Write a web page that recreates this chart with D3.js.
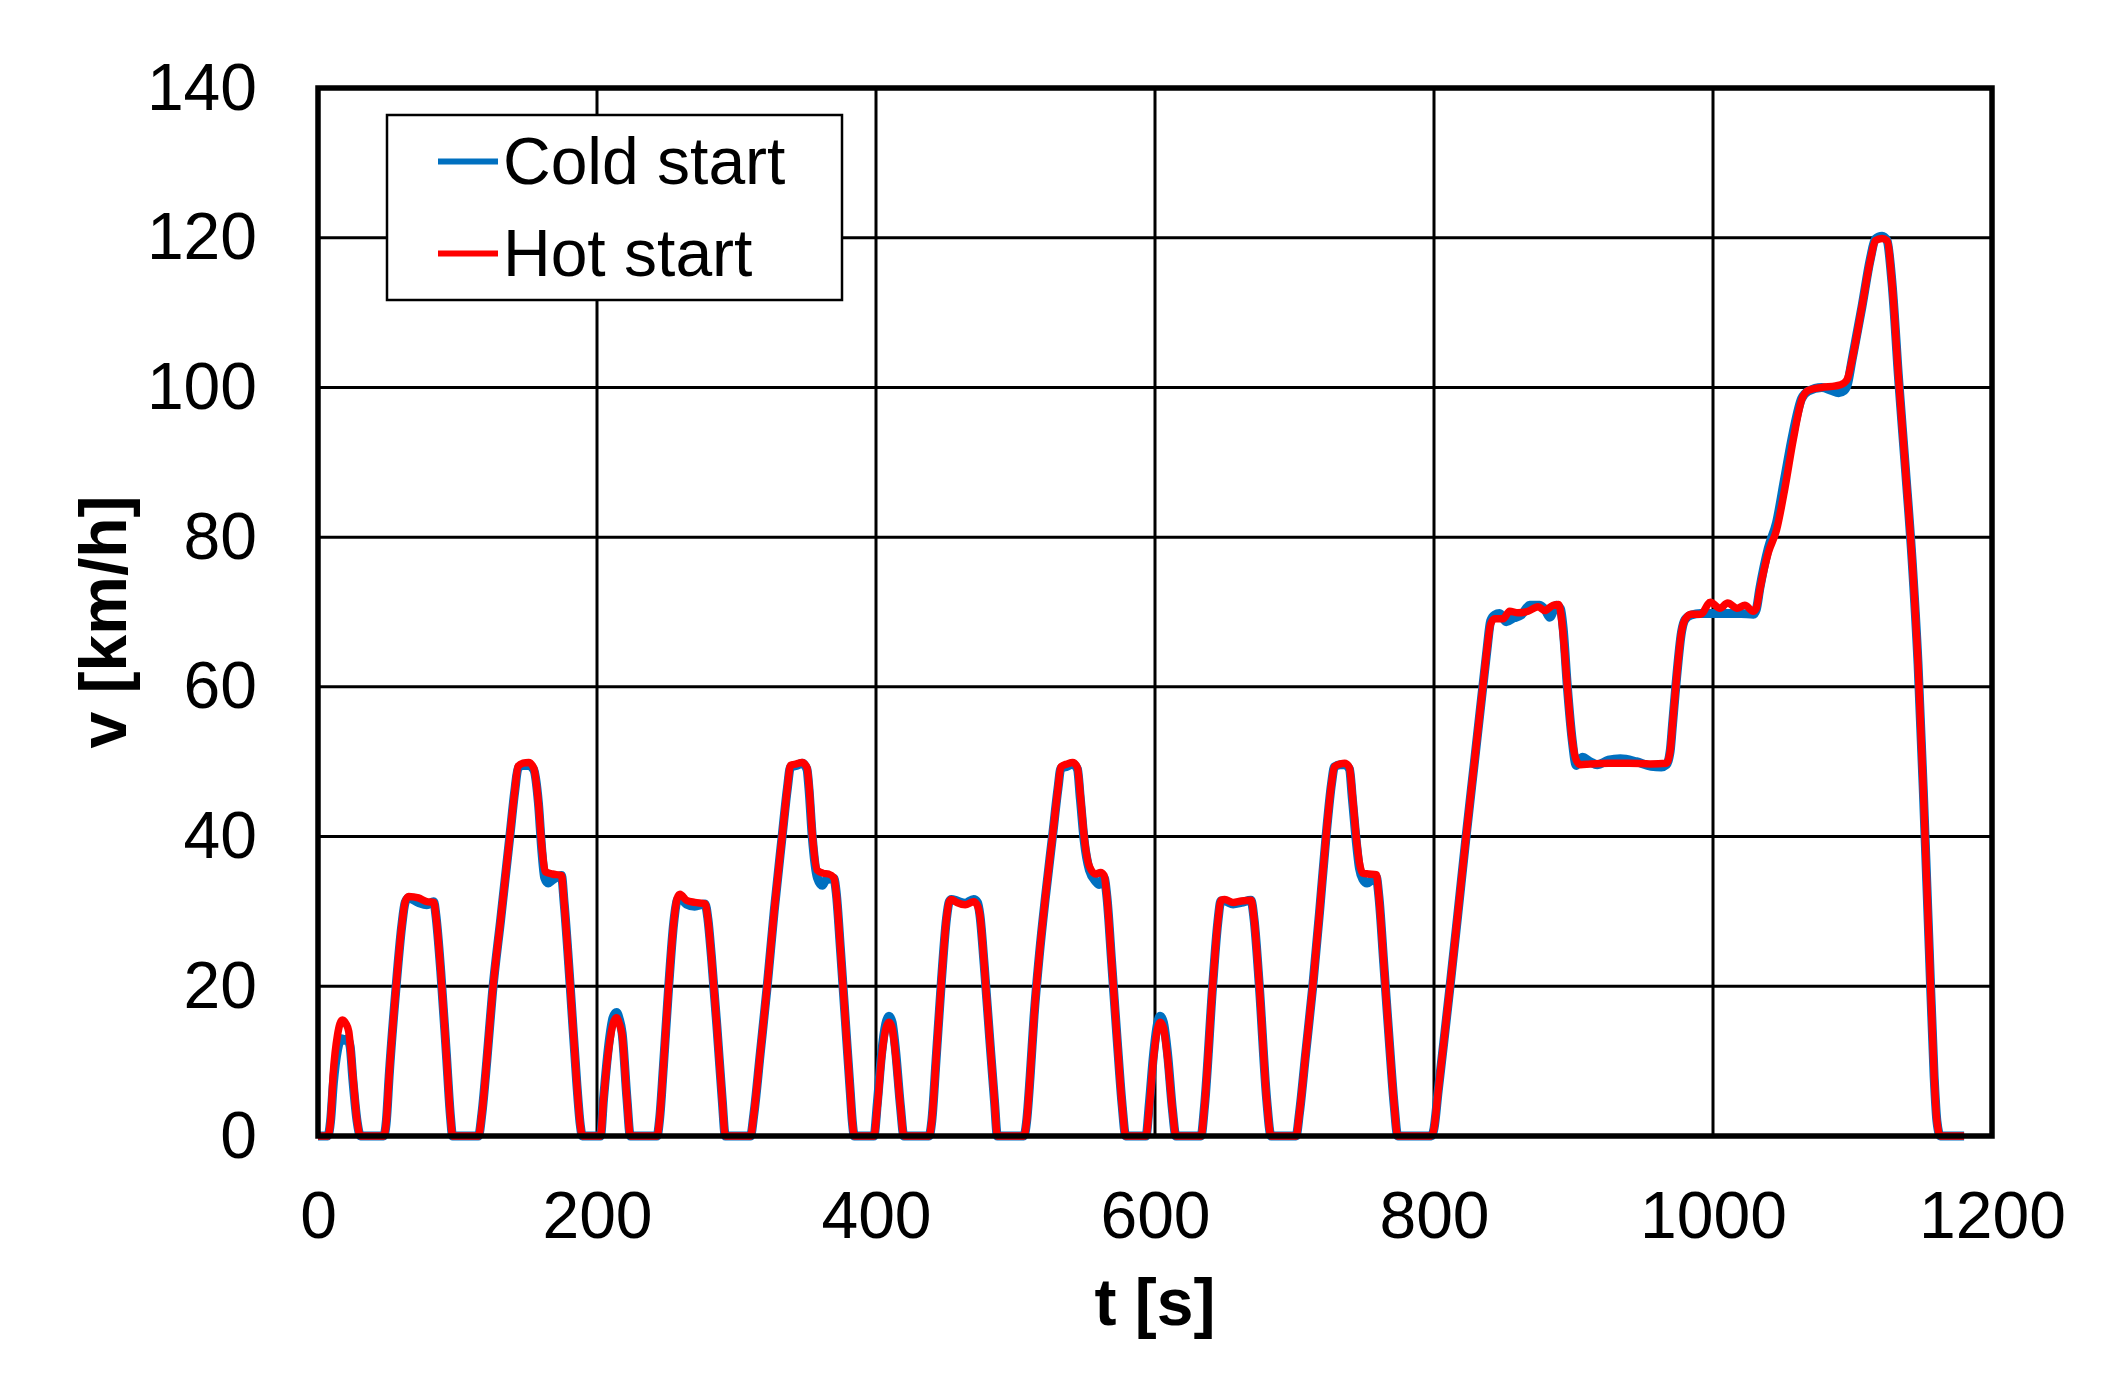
<!DOCTYPE html>
<html>
<head>
<meta charset="utf-8">
<script src="https://cdn.jsdelivr.net/npm/d3@7"></script>
<style>
  html, body { margin: 0; padding: 0; background: #fff; }
  svg { display: block; }
  text { font-family: "Liberation Sans", Arial, sans-serif; fill: #000; }
</style>
</head>
<body>
<svg id="chart" width="2120" height="1376"></svg>
<script>
// ---------- data ----------
const xTicks = [0, 200, 400, 600, 800, 1000, 1200];
const yTicks = [0, 20, 40, 60, 80, 100, 120, 140];
const seriesNames = ["Cold start", "Hot start"];
const seriesColors = ["#0070C0", "#FF0000"];

// Hot start: [t (s), v (km/h)]
const hotStart = [
  [0,0],[7,0],[9,2],[11,8.5],[14,13.5],[17.5,15.5],[20,15],[22,14],[25,8],[28,2],[30.5,0],
  [47,0],[49,2],[51,8],[56,20],[60,28],[62.5,31.3],[65,32],[72,31.8],[78,31.3],[83,31.2],[84.5,29.5],[88,22],[92,11],[95,2.5],[96.5,0],
  [115,0],[117.5,3],[121,10],[125,19],[131,29],[137.5,40],[141,46],[143.5,49.4],[147,49.8],[151,49.9],[154.5,49.2],[158,44.5],[160.5,38.5],[163,35.3],[168,35],[174.5,34.8],[176.5,31],[180.8,20],[185.6,6.8],[188,1.5],[189.5,0],
  [202.5,0],[204.7,5],[208.3,11.5],[211.5,15],[214,15.8],[216,15],[218,13.5],[221.5,4.9],[223.9,0],
  [243,0],[245,2.5],[247.5,9],[251.4,20],[255,28.5],[257.5,31.8],[259.5,32.3],[264,31.5],[270,31.2],[277.5,31],[279.5,29],[282,24],[286,14.5],[289.7,5],[292,0],
  [310,0],[312.5,3],[317,11],[322,20],[327,30],[332.7,40],[336.5,46.5],[338.7,49.5],[343,49.7],[347,49.9],[350.5,49.2],[351.9,47],[354.3,40.4],[357.9,35.5],[362,35.1],[366,35],[369.8,34.5],[371.5,32.5],[374.5,25],[378,15.5],[381.5,6],[383,2],[384.5,0],
  [398.5,0],[401,4],[404,10.5],[407,14.3],[409.3,15.2],[411.5,14.5],[414,11],[417.5,4],[420,0],
  [438,0],[440,2],[443,10],[447,21],[450.5,29],[452.5,31.3],[454,31.6],[458,31.2],[464,30.9],[470,31.3],[472.7,30.8],[474.5,29.5],[477.5,23],[481.5,13],[485,4.5],[487,0],
  [506,0],[508,2],[510.5,8],[513.3,16],[517,24],[521.5,32],[526.5,40],[530.5,46.5],[532.5,49.3],[537,49.7],[541,49.9],[544.4,49.2],[546.5,45.5],[549.2,40],[553,36],[557.6,35],[561,35.2],[563.5,34.8],[565.5,32],[569,23],[573,12.5],[576.5,4],[579,0],
  [593.5,0],[596,4],[599,10.5],[602,14.5],[603.7,15.2],[606,14.5],[609,10.5],[612.5,3.5],[615,0],
  [633,0],[635.5,4],[641.3,20],[645,28.5],[647.3,31.5],[650,31.6],[656,31.2],[662,31.4],[668.8,31.5],[671,29],[674.8,20],[680,5],[683.2,0],
  [701.1,0],[703.5,3],[708,11],[713.1,20],[718,30],[722.6,40],[726.5,47],[728.6,49.3],[733,49.7],[736,49.8],[739.4,49.2],[741.5,45.5],[744.2,40],[746.5,36.5],[749,35.1],[753,35],[758.6,34.9],[760.5,32],[764,23],[768,12.5],[771.5,4],[774,0],
  [798,0],[800,1],[803,6],[807,12.5],[811.5,20],[817,29.5],[823,40],[829,50],[835,60],[838,65],[840.6,68.4],[843.5,69.1],[849.5,69.1],[854.2,70.1],[860.2,69.9],[867.4,70.1],[874.6,70.7],[879.4,70.2],[885.3,70.9],[889.4,71],[891.5,69],[893.5,65],[895.6,60],[899,53],[902,50.2],[905,49.6],[912,49.7],[925,49.8],[940,49.8],[955,49.7],[966.6,49.8],[969.3,51.4],[971,55],[973.4,60.2],[977.5,67.4],[980,69],[984.4,69.7],[991.2,69.7],[998.1,71.3],[1005,70.5],[1010.5,71.2],[1017.3,70.5],[1022.8,70.9],[1028.8,70.1],[1031,70.5],[1033.6,73],[1039.6,77.9],[1045.6,81],[1051.5,86.5],[1057.5,93],[1063.5,98.3],[1068.3,99.6],[1078,100],[1088,100.2],[1094,100.6],[1096.5,101.2],[1099.6,103.6],[1106.8,110.8],[1112.8,117],[1116.4,119.6],[1121.2,119.9],[1124.8,119.6],[1128.3,114],[1133.1,101],[1138,89],[1142.7,77],[1147,63],[1151,45],[1155,25],[1158.5,8],[1160.5,2],[1163,0],[1180,0]
];

// Cold start: [t (s), v (km/h)]
const coldStart = [
  [0,0],[7,0],[9,2],[11,7],[14,11.5],[17,13],[19,12.8],[21,13],[23,12],[25,7.5],[28,2],[30.5,0],
  [47,0],[49,2],[51,8],[56,20],[60,28],[62.5,31.2],[65,31.8],[72,31.2],[78,30.9],[83,31.3],[84.5,29.5],[88,22],[92,11],[95,2.5],[96.5,0],
  [115,0],[117.5,3],[121,10],[125,19],[131,29],[137.5,40],[141,46],[143.5,49.2],[147,49.5],[151,49.5],[154.5,49],[158,44.5],[160.5,38],[162.5,34.5],[165,33.8],[168,34.2],[174.5,34.8],[176.5,31],[180.8,20],[185.6,6.8],[188,1.5],[189.5,0],
  [202.5,0],[204.7,5],[208.3,12],[211.5,15.8],[214,16.5],[216,15.6],[218,13.8],[221.5,4.9],[223.9,0],
  [243,0],[245,2.5],[247.5,9],[251.4,20],[255,28.5],[257.5,31.5],[259.5,31.8],[264,31],[270,30.7],[277.5,31],[279.5,29],[282,24],[286,14.5],[289.7,5],[292,0],
  [310,0],[312.5,3],[317,11],[322,20],[327,30],[332.7,40],[336.5,46.5],[338.7,49.3],[343,49.5],[347,49.8],[350.5,49],[351.9,46.5],[354.3,40],[358,34.5],[361.5,33.5],[364,34.2],[369.8,34.4],[371.5,32.5],[374.5,25],[378,15.5],[381.5,6],[383,2],[384.5,0],
  [398.5,0],[401,4.5],[404,11],[407,15],[409.3,16],[411.5,15.2],[414,11.5],[417.5,4],[420,0],
  [438,0],[440,2],[443,10],[447,21],[450.5,29],[452.5,31.3],[454,31.6],[458,31.4],[464,31.1],[470,31.6],[472.7,31.2],[474.5,29.5],[477.5,23],[481.5,13],[485,4.5],[487,0],
  [506,0],[508,2],[510.5,8],[513.3,16],[517,24],[521.5,32],[526.5,40],[530.5,46.5],[532.5,49.1],[537,49.4],[541,49.7],[544.4,49],[546.5,45],[549.2,39.5],[553,35.5],[557.6,34],[560,33.6],[563.5,34.5],[565.5,32],[569,23],[573,12.5],[576.5,4],[579,0],
  [593.5,0],[596,4.5],[599,11],[602,15.2],[603.7,16],[606,15.2],[609,11],[612.5,3.5],[615,0],
  [633,0],[635.5,4],[641.3,20],[645,28.5],[647.3,31.4],[650,31.4],[656,31],[662,31.2],[668.8,31.5],[671,29],[674.8,20],[680,5],[683.2,0],
  [701.1,0],[703.5,3],[708,11],[713.1,20],[718,30],[722.6,40],[726.5,47],[728.6,49.3],[733,49.6],[736,49.6],[739.4,49],[741.5,45],[744.2,39.5],[746.5,35.8],[749,34.3],[752,33.8],[756,34.3],[758.6,34.6],[760.5,32],[764,23],[768,12.5],[771.5,4],[774,0],
  [798,0],[800,1],[803,6],[807,12.5],[811.5,20],[817,29.5],[823,40],[829,50],[835,60],[838,65],[840.6,68.8],[843.5,69.6],[847,69.8],[851.8,68.7],[857,69.2],[862.6,69.6],[868.6,70.9],[875.8,70.9],[880,70.2],[883,69.3],[887.8,70.9],[890.7,70.4],[892.5,68],[895.6,60],[899,53],[902,49.5],[906.3,50.6],[912,50],[917,49.6],[925,50.2],[933.6,50.4],[945,50],[955.6,49.4],[963,49.3],[966.6,49.6],[969.3,51.4],[971,55],[973.4,60.2],[977.5,67.4],[980,69],[984.4,69.6],[991.2,69.8],[1000,69.8],[1010,69.8],[1020,69.8],[1029,69.7],[1031,70.3],[1033.6,73.2],[1039.6,78.5],[1045.6,82],[1051.5,88],[1057.5,94],[1063.5,98.5],[1068.3,99.5],[1078,100],[1085,99.6],[1090,99.3],[1094,99.6],[1096.5,100.5],[1099.6,103.6],[1106.8,110.8],[1112.8,117.2],[1116.4,119.8],[1121.2,120.2],[1124.8,119.6],[1128.3,114],[1133.1,101],[1138,89],[1142.7,77],[1147,63],[1151,45],[1155,25],[1158.5,8],[1160.5,2],[1163,0],[1180,0]
];

// ---------- layout ----------
const plot = { left: 318, right: 1992, top: 88, bottom: 1136 };
const FONT = 66;

const svg = d3.select("#chart");
const x = d3.scaleLinear().domain([0, 1200]).range([plot.left, plot.right]);
const y = d3.scaleLinear().domain([0, 140]).range([plot.bottom, plot.top]);

// gridlines
const g = svg.append("g");
g.selectAll("line.vg").data(xTicks.slice(1, -1)).enter().append("line")
  .attr("x1", d => x(d)).attr("x2", d => x(d))
  .attr("y1", plot.top).attr("y2", plot.bottom)
  .attr("stroke", "#000").attr("stroke-width", 3);
g.selectAll("line.hg").data(yTicks.slice(1, -1)).enter().append("line")
  .attr("x1", plot.left).attr("x2", plot.right)
  .attr("y1", d => y(d)).attr("y2", d => y(d))
  .attr("stroke", "#000").attr("stroke-width", 3);

// axes (labels only, no tick marks)
const fmt = d3.format("d");
const yAxis = d3.axisLeft(y).tickValues(yTicks).tickFormat(fmt).tickSize(0).tickPadding(61);
const xAxis = d3.axisBottom(x).tickValues(xTicks).tickFormat(fmt).tickSize(0).tickPadding(55);
const ya = svg.append("g").attr("transform", `translate(${plot.left},0)`).call(yAxis);
const xa = svg.append("g").attr("transform", `translate(0,${plot.bottom})`).call(xAxis);
[ya, xa].forEach(a => {
  a.select(".domain").remove();
  a.selectAll("text")
    .attr("font-family", "Liberation Sans, Arial, sans-serif")
    .attr("font-size", FONT).attr("fill", "#000");
});

// series lines
const line = d3.line().x(d => x(d[0])).y(d => y(d[1])).curve(d3.curveMonotoneX);
svg.append("path").datum(coldStart).attr("d", line)
  .attr("fill", "none").attr("stroke", seriesColors[0]).attr("stroke-width", 9)
  .attr("stroke-linejoin", "round");
svg.append("path").datum(hotStart).attr("d", line)
  .attr("fill", "none").attr("stroke", seriesColors[1]).attr("stroke-width", 7.5)
  .attr("stroke-linejoin", "round");

// plot border
svg.append("rect")
  .attr("x", plot.left).attr("y", plot.top)
  .attr("width", plot.right - plot.left).attr("height", plot.bottom - plot.top)
  .attr("fill", "none").attr("stroke", "#000").attr("stroke-width", 5.5);

// axis titles
svg.append("text").attr("x", (plot.left + plot.right) / 2).attr("y", 1325)
  .attr("text-anchor", "middle").attr("font-size", FONT).attr("font-weight", "bold")
  .text("t [s]");
svg.append("text").attr("transform", "translate(126,622) rotate(-90)")
  .attr("text-anchor", "middle").attr("font-size", FONT).attr("font-weight", "bold")
  .text("v [km/h]");

// legend
const lg = svg.append("g");
lg.append("rect").attr("x", 387).attr("y", 115).attr("width", 455).attr("height", 185)
  .attr("fill", "#fff").attr("stroke", "#000").attr("stroke-width", 2.5);
const legendRows = [161.5, 253.6];
seriesNames.forEach((name, i) => {
  lg.append("line").attr("x1", 438).attr("x2", 498)
    .attr("y1", legendRows[i]).attr("y2", legendRows[i])
    .attr("stroke", seriesColors[i]).attr("stroke-width", 6);
  lg.append("text").attr("x", 503).attr("y", legendRows[i] + 22)
    .attr("font-size", FONT).text(name);
});
</script>
</body>
</html>
